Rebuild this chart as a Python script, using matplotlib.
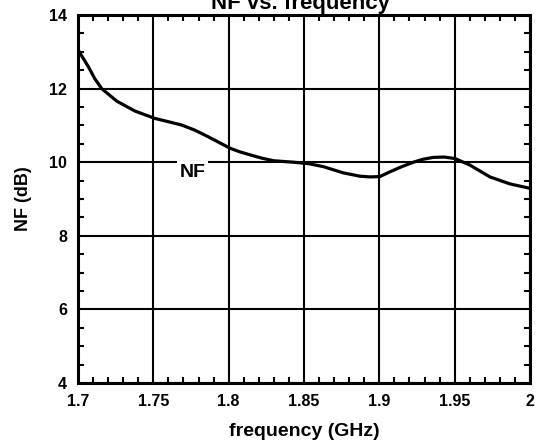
import numpy as np
import matplotlib.pyplot as plt
from matplotlib.ticker import MultipleLocator

# frequency (GHz) and noise figure (dB)
freq = [1.700, 1.7035, 1.7068, 1.711, 1.7157, 1.7257, 1.7378, 1.751, 1.760, 1.7688,
        1.7776, 1.7865, 1.7953, 1.8009, 1.8075, 1.8142, 1.822, 1.8297, 1.843, 1.853,
        1.8628, 1.8761, 1.8871, 1.8938, 1.9004, 1.9071, 1.915, 1.9226, 1.929, 1.9358,
        1.943, 1.9502, 1.9602, 1.9734, 1.9867, 2.000]
nf = [13.05, 12.82, 12.6, 12.28, 12.0, 11.66, 11.39, 11.19, 11.1, 11.01,
      10.87, 10.69, 10.5, 10.38, 10.28, 10.2, 10.11, 10.04, 10.0, 9.96,
      9.88, 9.71, 9.62, 9.6, 9.61, 9.74, 9.88, 10.0, 10.08, 10.13,
      10.14, 10.1, 9.92, 9.6, 9.41, 9.29]

plt.rcParams['font.family'] = ['Liberation Sans', 'DejaVu Sans']
plt.rcParams['font.weight'] = 'bold'

fig = plt.figure(figsize=(5.36, 4.45), dpi=100)
ax = fig.add_axes([78 / 536, 1 - 383 / 445, (530 - 78) / 536, (383 - 15) / 445])

ax.plot(freq, nf, color='black', lw=2.3, zorder=3, solid_joinstyle='round')
ax.set_xlim(1.7, 2.0)
ax.set_ylim(4, 14)

ax.xaxis.set_minor_locator(MultipleLocator(0.01))
ax.yaxis.set_major_locator(MultipleLocator(2))
ax.yaxis.set_minor_locator(MultipleLocator(0.5))
ax.set_xticks([1.7, 1.75, 1.8, 1.85, 1.9, 1.95, 2.0])
ax.set_xticklabels(['1.7', '1.75', '1.8', '1.85', '1.9', '1.95', '2'])

ax.grid(True, which='major', color='black', lw=1.5)
for s in ax.spines.values():
    s.set_linewidth(2.2)
ax.tick_params(which='both', direction='in', top=True, right=True, width=1.5,
               labelsize=11.5)
ax.tick_params(which='major', length=0, pad=8)
ax.tick_params(which='minor', length=4)

ax.set_xlabel('frequency (GHz)', fontsize=14, fontweight='bold', labelpad=10)
ax.set_ylabel('NF (dB)', fontsize=13, fontweight='bold', labelpad=12)

ax.text(1.776, 9.73, 'NF', fontsize=14, fontweight='bold', ha='center', va='center',
        bbox=dict(facecolor='white', edgecolor='none', pad=2), zorder=4)

fig.text(0.56, 0.993, 'NF vs. frequency', fontsize=16, fontweight='bold',
         ha='center', va='center')

fig.savefig('out.png', dpi=100)
